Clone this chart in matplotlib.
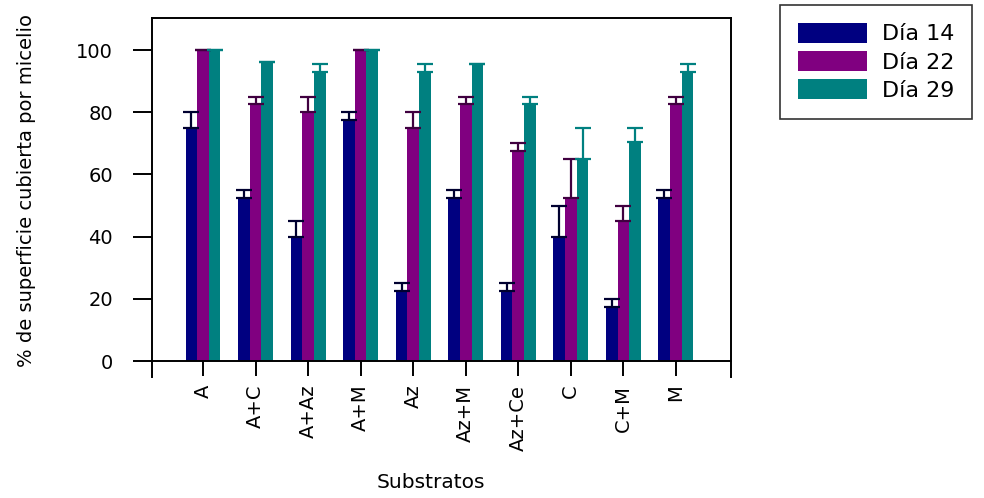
import numpy as np
import matplotlib
matplotlib.use('Agg')
import matplotlib.pyplot as plt

plt.rcParams['font.family'] = ['DejaVu Sans']

substratos = ['A', 'A+C', 'A+Az', 'A+M', 'Az', 'Az+M', 'Az+Ce', 'C', 'C+M', 'M']

dia14 = [75, 52.5, 40, 77.5, 22.5, 52.5, 22.5, 40, 17.5, 52.5]
dia14_err = [5, 2.5, 5, 2.5, 2.5, 2.5, 2.5, 10, 2.5, 2.5]
dia22 = [100, 82.5, 80, 100, 75, 82.5, 67.5, 52.5, 45, 82.5]
dia22_err = [0, 2.5, 5, 0, 5, 2.5, 2.5, 12.5, 5, 2.5]
dia29 = [100, 96, 93, 100, 93, 95.5, 82.5, 65, 70.5, 93]
dia29_err = [0, 0, 2.5, 0, 2.5, 0, 2.5, 10, 4.5, 2.5]

series = [('Día 14', dia14, dia14_err, '#000080', '#000030'),
          ('Día 22', dia22, dia22_err, '#800080', '#400040'),
          ('Día 29', dia29, dia29_err, '#008080', '#008080')]

fs = 14

fig = plt.figure(figsize=(9.84, 4.98), dpi=100)
ax = fig.add_axes([0.1545, 0.243, 0.5885, 0.7209])

x = np.arange(len(substratos))
w = 0.222
for i, (name, vals, err, col, ecol) in enumerate(series):
    pos = x + (i - 1) * w
    ax.bar(pos, vals, w, color=col, label=name, zorder=2)
    ax.errorbar(pos, vals, yerr=[np.zeros(len(err)), err], fmt='none',
                ecolor=ecol, elinewidth=1.6, capsize=6, capthick=1.6, zorder=3)

ax.set_xlim(-0.97, 10.05)
ax.set_ylim(-5.1, 110.3)

# baseline at zero, box around the plot
ax.spines['bottom'].set_position(('data', 0))
for s in ['left', 'right', 'top', 'bottom']:
    ax.spines[s].set_linewidth(1.4)

ax.set_yticks([0, 20, 40, 60, 80, 100])
ax.set_xticks(x)
ax.set_xticklabels(substratos, rotation=90, fontsize=fs)
ax.tick_params(axis='y', length=14, width=1.4, pad=14, labelsize=fs)
ax.tick_params(axis='x', length=11, width=1.4, pad=6)

ax.set_ylabel('% de superficie cubierta por micelio', fontsize=fs)
ax.yaxis.set_label_coords(-0.2, 0.52)
fig.text(0.438, 0.02, 'Substratos', fontsize=fs + 0.5, ha='center')

leg = fig.legend(loc='upper left', bbox_to_anchor=(0.7927, 0.99), fontsize=16,
                 frameon=True, fancybox=False, edgecolor='black',
                 handlelength=3.1, handleheight=1.0, labelspacing=0.3,
                 borderpad=0.8, handletextpad=0.7, borderaxespad=0)
leg.get_frame().set_linewidth(1.2)

plt.savefig('out.png', dpi=100)
